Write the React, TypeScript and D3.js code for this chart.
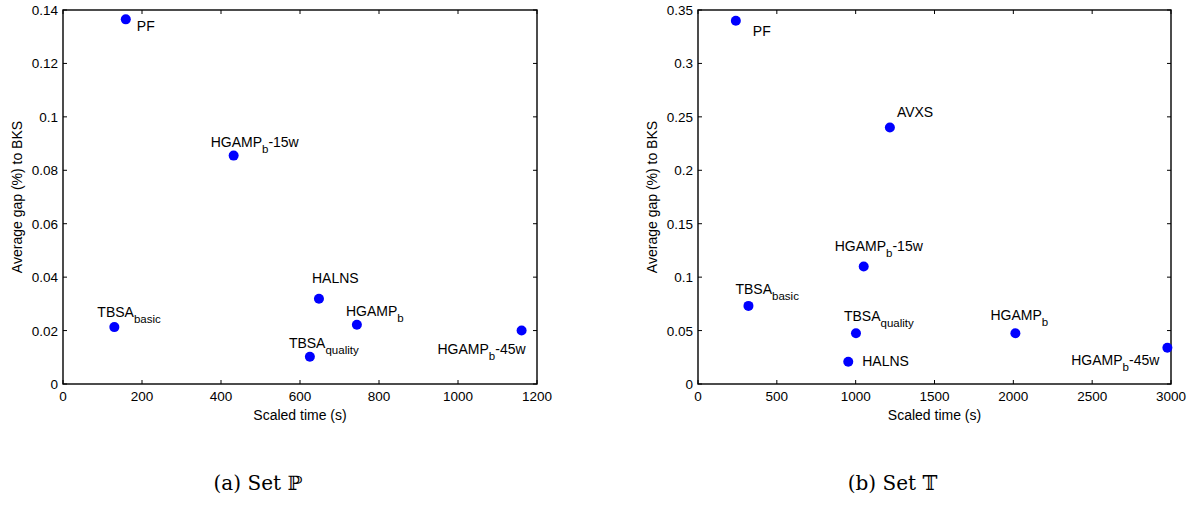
import React from "react";
import * as d3 from "d3";

// Set P
const setPLabels = [
  ["PF"],
  ["HGAMP", "b", "-15w"],
  ["TBSA", "basic"],
  ["HALNS"],
  ["HGAMP", "b"],
  ["TBSA", "quality"],
  ["HGAMP", "b", "-45w"],
];
const setPTime = [159, 432, 130, 648, 744, 625, 1161];
const setPGap = [0.1365, 0.0855, 0.0213, 0.0319, 0.0222, 0.0102, 0.02];
const setPXTicks = [0, 200, 400, 600, 800, 1000, 1200];
const setPYTicks = [0, 0.02, 0.04, 0.06, 0.08, 0.1, 0.12, 0.14];

// Set T
const setTLabels = [
  ["PF"],
  ["AVXS"],
  ["HGAMP", "b", "-15w"],
  ["TBSA", "basic"],
  ["TBSA", "quality"],
  ["HALNS"],
  ["HGAMP", "b"],
  ["HGAMP", "b", "-45w"],
];
const setTTime = [240, 1217, 1051, 320, 1002, 953, 2013, 2977];
const setTGap = [0.34, 0.24, 0.11, 0.0731, 0.0475, 0.0209, 0.0475, 0.034];
const setTXTicks = [0, 500, 1000, 1500, 2000, 2500, 3000];
const setTYTicks = [0, 0.05, 0.1, 0.15, 0.2, 0.25, 0.3, 0.35];

// label placement relative to each dot (dx, dy, anchor)
const setPOffsets: [number, number, string][] = [
  [11, 12, "start"],
  [-23, -9, "start"],
  [-17, -10, "start"],
  [-7, -16, "start"],
  [-11, -9, "start"],
  [-21, -9, "start"],
  [4, 23, "end"],
];
const setTOffsets: [number, number, string][] = [
  [17, 15, "start"],
  [7, -11, "start"],
  [-29, -15, "start"],
  [-13, -12, "start"],
  [-12, -12, "start"],
  [14, 4, "start"],
  [-25, -13, "start"],
  [-8, 17, "end"],
];

const FONT = "'Liberation Sans', Arial, sans-serif";
const fmt = (v: number) => String(+v.toFixed(3));

type PanelProps = {
  left: number;
  right: number;
  top: number;
  bottom: number;
  xMax: number;
  yMax: number;
  xTicks: number[];
  yTicks: number[];
  labels: string[][];
  xs: number[];
  ys: number[];
  offsets: [number, number, string][];
  caption: string;
};

const Label = ({ parts }: { parts: string[] }) => (
  <>
    <tspan>{parts[0]}</tspan>
    {parts[1] && (
      <tspan fontSize={11.5} dy={6}>
        {parts[1]}
      </tspan>
    )}
    {parts[2] && <tspan dy={-6}>{parts[2]}</tspan>}
  </>
);

const Panel = (p: PanelProps) => {
  const x = d3.scaleLinear().domain([0, p.xMax]).range([p.left, p.right]);
  const y = d3.scaleLinear().domain([0, p.yMax]).range([p.bottom, p.top]);
  const tl = 4;
  const midX = (p.left + p.right) / 2;
  const midY = (p.top + p.bottom) / 2;
  return (
    <g fontFamily={FONT}>
      {/* ticks on all four sides, pointing in */}
      {p.xTicks.map((t) => (
        <g key={"x" + t}>
          <line x1={x(t)} x2={x(t)} y1={p.bottom} y2={p.bottom - tl} stroke="#000" />
          <line x1={x(t)} x2={x(t)} y1={p.top} y2={p.top + tl} stroke="#000" />
          <text x={x(t)} y={p.bottom + 17} textAnchor="middle" fontSize={13.5} fill="#000">
            {fmt(t)}
          </text>
        </g>
      ))}
      {p.yTicks.map((t) => (
        <g key={"y" + t}>
          <line x1={p.left} x2={p.left + tl} y1={y(t)} y2={y(t)} stroke="#000" />
          <line x1={p.right} x2={p.right - tl} y1={y(t)} y2={y(t)} stroke="#000" />
          <text x={p.left - 5} y={y(t) + 5} textAnchor="end" fontSize={13.5} fill="#000">
            {fmt(t)}
          </text>
        </g>
      ))}
      <rect
        x={p.left}
        y={p.top}
        width={p.right - p.left}
        height={p.bottom - p.top}
        fill="none"
        stroke="#000"
        strokeWidth={1.4}
      />
      {p.xs.map((v, i) => (
        <circle key={"c" + i} cx={x(v)} cy={y(p.ys[i])} r={5} fill="#0000ff" />
      ))}
      {p.xs.map((v, i) => (
        <text
          key={"l" + i}
          x={x(v) + p.offsets[i][0]}
          y={y(p.ys[i]) + p.offsets[i][1]}
          textAnchor={p.offsets[i][2] as any}
          fontSize={14}
          fill="#000"
        >
          <Label parts={p.labels[i]} />
        </text>
      ))}
      <text x={midX} y={p.bottom + 36} textAnchor="middle" fontSize={14} fill="#000">
        Scaled time (s)
      </text>
      <text
        transform={`translate(${p.left - 41},${midY}) rotate(-90)`}
        textAnchor="middle"
        fontSize={14}
        fill="#000"
      >
        Average gap (%) to BKS
      </text>
      <text
        x={midX - 42}
        y={490}
        textAnchor="middle"
        fontSize={20}
        fontFamily="'DejaVu Serif', 'Liberation Serif', serif"
        fill="#000"
      >
        {p.caption}
      </text>
    </g>
  );
};

export default function App() {
  return (
    <svg
      width={1193}
      height={518}
      style={{ position: "absolute", left: 0, top: 0, background: "#fff" }}
    >
      <Panel
        left={63}
        right={537}
        top={10}
        bottom={384}
        xMax={1200}
        yMax={0.14}
        xTicks={setPXTicks}
        yTicks={setPYTicks}
        labels={setPLabels}
        xs={setPTime}
        ys={setPGap}
        offsets={setPOffsets}
        caption={"(a)  Set \u2119"}
      />
      <Panel
        left={698}
        right={1171}
        top={10}
        bottom={384}
        xMax={3000}
        yMax={0.35}
        xTicks={setTXTicks}
        yTicks={setTYTicks}
        labels={setTLabels}
        xs={setTTime}
        ys={setTGap}
        offsets={setTOffsets}
        caption={"(b)  Set \uD835\uDD4B"}
      />
    </svg>
  );
}
